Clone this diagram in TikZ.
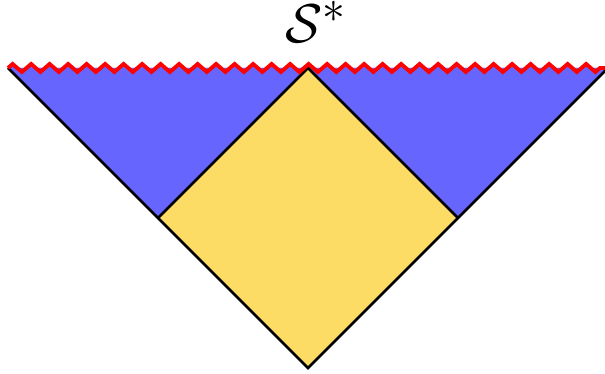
\documentclass[tikz,border=0pt]{standalone}
\usetikzlibrary{decorations.pathmorphing}
\definecolor{regionblue}{RGB}{102,102,255}
\definecolor{regionyellow}{RGB}{252,220,100}
\begin{document}
\begin{tikzpicture}

    % Stili globali
    \tikzset{
        edgeline/.style={black, line width=1.5pt, line join=miter},
        singular/.style={red, line width=2.2pt, decorate,
            decoration={zigzag, segment length=0.37cm, amplitude=0.08cm}},
        singfill/.style={regionblue, decorate,
            decoration={zigzag, segment length=0.37cm, amplitude=0.08cm}}
    }

    % Riquadro (605 x 374 px, 50 px = 1 cm)
    \useasboundingbox (0,0) rectangle (12.1,7.48);
    \clip (0,0) rectangle (12.1,7.48);

    % Vertici del triangolo e del rombo
    \coordinate (left) at (0.16,6.12);
    \coordinate (right) at (12.16,6.12);
    \coordinate (top) at (6.16,6.12);
    \coordinate (bottom) at (6.16,0.12);
    \coordinate (west) at (3.16,3.12);
    \coordinate (east) at (9.16,3.12);

    % Regione blu
    \fill[regionblue] (left) -- (right) -- (bottom) -- cycle;
    \fill[singfill] (left) -- (right);

    % Rombo giallo
    \fill[regionyellow] (top) -- (east) -- (bottom) -- (west) -- cycle;

    % Bordi
    \draw[edgeline] (left) -- (bottom) -- (right);
    \draw[edgeline] (west) -- (top) -- (east);

    % Singolarita'
    \draw[singular] (left) -- (right);

    % Etichetta
    \node[font=\Huge, scale=1.25, transform shape, inner sep=0pt] (label) at (6.32,7.04) {$\mathcal{S}^*$};

\end{tikzpicture}
\end{document}
